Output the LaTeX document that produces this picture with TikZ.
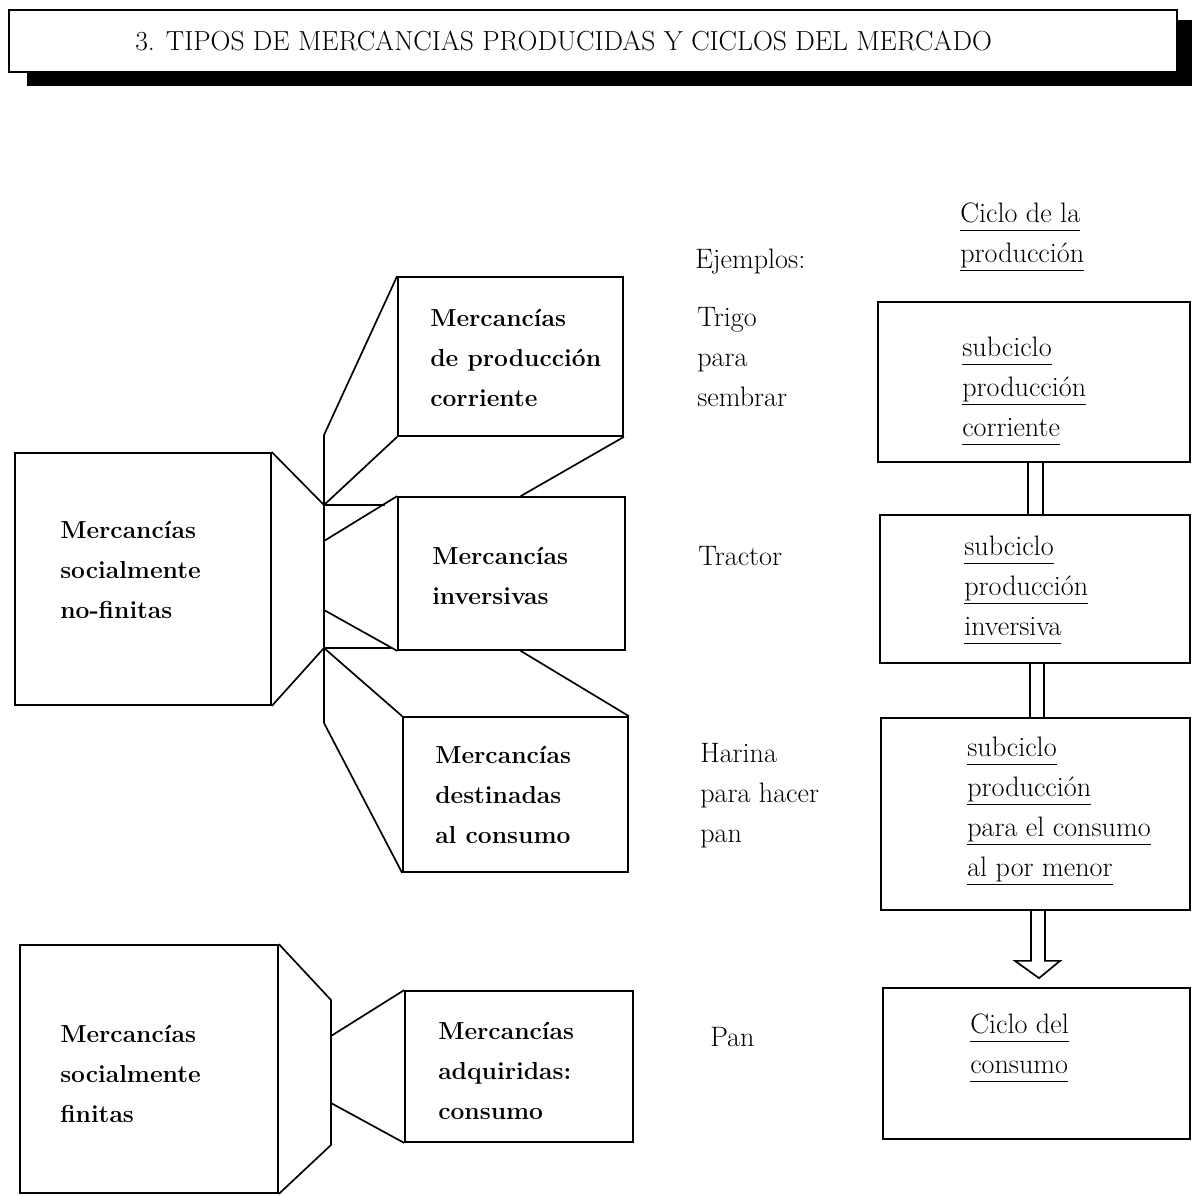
\documentclass[tikz,border=0pt]{standalone}
\usepackage{fontspec}
\usepackage{tikz}
\usetikzlibrary{positioning,calc}
\newcommand{\subr}[1]{\underline{#1\vphantom{p}}}

\begin{document}
\begin{tikzpicture}[x=0.025cm,y=-0.025cm,
    caja/.style={draw,line width=1.2pt,fill=white,inner sep=0pt},
    marco/.style={line width=1.2pt},
    merc/.style={font=\fontsize{17.5}{28.45}\selectfont\bfseries,align=left,anchor=west,inner sep=0pt},
    txt/.style={font=\fontsize{20}{28.45}\selectfont,align=left,anchor=west,inner sep=0pt}
  ]
  \useasboundingbox (0,0) rectangle (1192,1196);

  % titulo con sombra
  \fill (27,20) rectangle (1192,86);
  \node[caja,minimum width=29.2cm,minimum height=1.55cm] (titulo) at (593,41) {};
  \node[txt,font=\fontsize{19.6}{22}\selectfont] (tituloT) at (135,41) {3. TIPOS DE MERCANCIAS PRODUCIDAS Y CICLOS DEL MERCADO};

  % mercancias socialmente no-finitas
  \node[caja,minimum width=6.4cm,minimum height=6.3cm] (nofin) at (143,579) {};
  \node[caja,minimum width=5.625cm,minimum height=3.975cm] (corr) at (510.5,356.5) {};
  \node[caja,minimum width=5.675cm,minimum height=3.825cm] (inv) at (511.5,573.5) {};
  \node[caja,minimum width=5.625cm,minimum height=3.875cm] (dest) at (515.5,794.5) {};

  \coordinate (s1) at (324,435);
  \coordinate (s2) at (324,505);
  \coordinate (s3) at (324,541);
  \coordinate (s4) at (324,610);
  \coordinate (s5) at (324,648);
  \coordinate (s6) at (324,723);
  \coordinate (h1) at (385,505);
  \coordinate (h2) at (391,648);
  \coordinate (c1) at ($(inv.north west)!0.54!(inv.north east)$);
  \coordinate (c2) at ($(inv.south west)!0.54!(inv.south east)$);

  \draw[marco] (nofin.north east) -- (s2);
  \draw[marco] (nofin.south east) -- (s5);
  \draw[marco] (s1) -- (s6);
  \draw[marco] (s1) -- (corr.north west);
  \draw[marco] (s2) -- (corr.south west);
  \draw[marco] (s2) -- (h1);
  \draw[marco] (s3) -- (inv.north west);
  \draw[marco] (corr.south east) -- (c1);
  \draw[marco] (s4) -- (inv.south west);
  \draw[marco] (s5) -- (h2);
  \draw[marco] (s5) -- (dest.north west);
  \draw[marco] (c2) -- (dest.north east);
  \draw[marco] (s6) -- (dest.south west);

  \node[merc] (nofinT) at (60,570) {Mercancías\\socialmente\\no-finitas};
  \node[merc] (corrT) at (430,358) {Mercancías\\de producción\\corriente};
  \node[merc] (invT) at (432,576) {Mercancías\\inversivas};
  \node[merc] (destT) at (435,795) {Mercancías\\destinadas\\al consumo};

  % mercancias socialmente finitas
  \node[caja,minimum width=6.45cm,minimum height=6.2cm] (fin) at (149,1069) {};
  \node[caja,minimum width=5.7cm,minimum height=3.775cm] (adq) at (519,1066.5) {};
  \coordinate (t1) at (331,1000);
  \coordinate (t2) at (331,1036);
  \coordinate (t3) at (331,1103);
  \coordinate (t4) at (331,1145);
  \draw[marco] (fin.north east) -- (t1) -- (t4) -- (fin.south east);
  \draw[marco] (t2) -- (adq.north west);
  \draw[marco] (t3) -- (adq.south west);
  \node[merc] (finT) at (60,1074) {Mercancías\\socialmente\\finitas};
  \node[merc] (adqT) at (438,1071) {Mercancías\\adquiridas:\\consumo};

  % ejemplos
  \node[txt] (ejem) at (695,262) {Ejemplos:};
  \node[txt] (trigo) at (697,357) {Trigo\\para\\sembrar};
  \node[txt] (tractor) at (698,556) {Tractor};
  \node[txt] (harina) at (700,796) {Harina\\para hacer\\pan};
  \node[txt] (pan) at (710,1037) {Pan};

  % ciclos
  \node[txt] (cprod) at (960,237) {\subr{Ciclo de la}\\\subr{producción}};
  \node[caja,minimum width=7.8cm,minimum height=4cm] (sub1) at (1034,382) {};
  \node[caja,minimum width=7.75cm,minimum height=3.7cm] (sub2) at (1035,589) {};
  \node[caja,minimum width=7.725cm,minimum height=4.8cm] (sub3) at (1035.5,814) {};
  \node[caja,minimum width=7.675cm,minimum height=3.775cm] (ccons) at (1036.5,1063.5) {};
  \node[txt] (sub1T) at (962,391) {\subr{subciclo}\\\subr{producción}\\\subr{corriente}};
  \node[txt] (sub2T) at (964,590) {\subr{subciclo}\\\subr{producción}\\\subr{inversiva}};
  \node[txt] (sub3T) at (967,811) {\subr{subciclo}\\\subr{producción}\\\subr{para el consumo}\\\subr{al por menor}};
  \node[txt] (cconsT) at (970,1048) {\subr{Ciclo del}\\\subr{consumo}};

  \draw[marco,double,double distance=0.33cm] ($(sub1.south)+(1.5,0)$) -- ($(sub1.south |- sub2.north)+(1.5,0)$);
  \draw[marco,double,double distance=0.3cm] ($(sub2.south)+(2,0)$) -- ($(sub2.south |- sub3.north)+(2,0)$);
  \coordinate (punta) at ($(ccons.north)+(2.5,-9)$);
  \draw[marco,line join=miter] ($(sub3.south)+(-4.5,0)$) -- ++(0,50) -- ++(-16,0) -- (punta)
    -- ($(sub3.south)+(24.5,50)$) -- ++(-15,0) -- ++(0,-50);
\end{tikzpicture}
\end{document}
